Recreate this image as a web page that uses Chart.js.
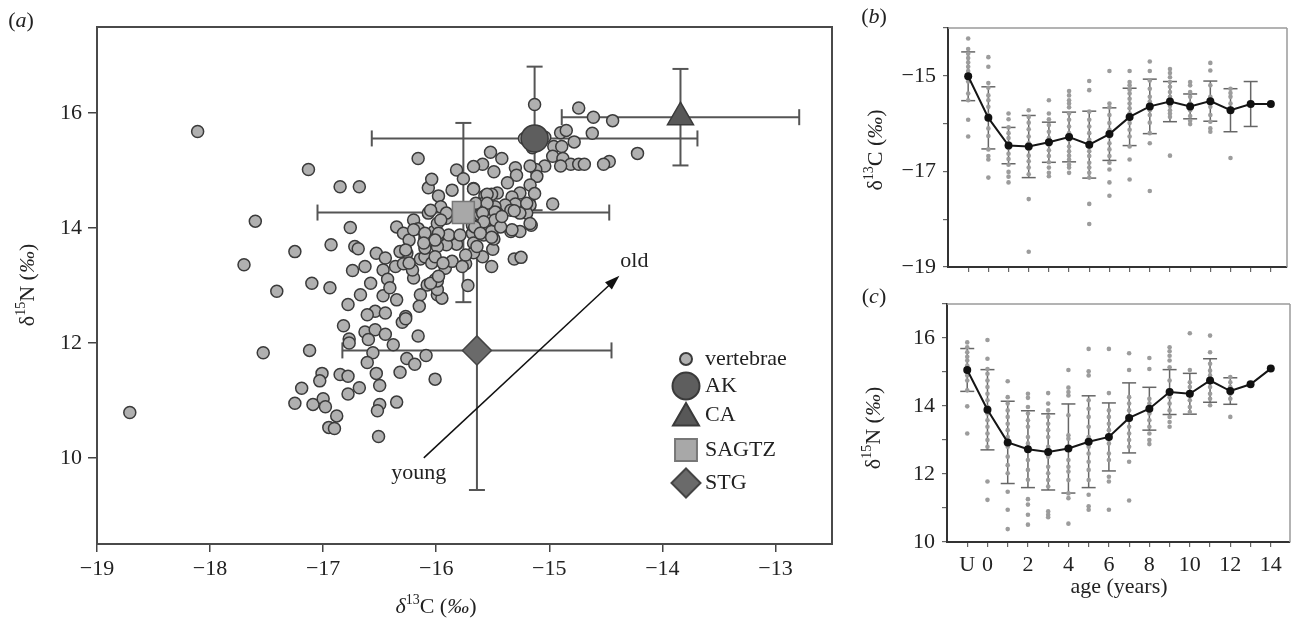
<!DOCTYPE html>
<html>
<head>
<meta charset="utf-8">
<script src="https://cdn.jsdelivr.net/npm/chart.js@4.4.1/dist/chart.umd.min.js"></script>
<style>
html, body { margin:0; padding:0; background:#fff; }
body { width:1294px; height:620px; position:relative; overflow:hidden; }
canvas { position:absolute; }
#ca { left:0; top:0; }
#cb { left:860px; top:0; }
#cc { left:860px; top:280px; }
</style>
</head>
<body>
<canvas id="ca" width="860" height="620"></canvas>
<canvas id="cb" width="434" height="290"></canvas>
<canvas id="cc" width="434" height="340"></canvas>
<script>
// ---- panel (a): vertebrae d13C / d15N ----
var vertC = [
 -18.11,-17.13,-16.85,-16.68,-17.60,-17.70,-17.25,-17.41,-17.10,-16.94,
 -16.93,-16.76,-16.72,-16.69,-16.74,-16.63,-16.53,-16.58,-16.67,-16.78,
 -16.45,-16.47,-16.36,-16.43,-16.35,-16.29,-16.20,-16.16,-16.26,-16.32,
 -16.29,-16.20,-16.47,-16.35,-16.54,-16.45,-16.61,-16.27,-18.71,-17.53,
 -17.12,-16.82,-16.77,-16.77,-16.63,-16.54,-16.60,-16.45,-16.56,-16.38,
 -16.30,-16.27,-16.16,-16.26,-16.19,-16.32,-16.61,-16.53,-16.50,-16.85,
 -16.78,-16.68,-16.78,-17.01,-17.03,-17.19,-17.25,-17.09,-17.00,-16.98,
 -16.88,-16.95,-16.90,-16.51,-16.50,-16.52,-16.35,-16.09,-16.01,-16.41,
 -16.21,-16.14,-16.10,-16.08,-16.14,-16.15,-16.01,-15.99,-16.24,-16.16,
 -16.10,-16.10,-16.02,-16.00,-16.07,-16.07,-15.98,-15.13,-14.74,-14.90,
 -14.85,-14.78,-14.96,-14.89,-15.04,-15.22,-15.15,-14.97,-14.88,-14.81,
 -14.74,-14.90,-15.04,-15.12,-15.11,-15.17,-15.17,-15.13,-15.17,-14.97,
 -15.30,-15.29,-15.37,-15.26,-15.33,-15.42,-15.52,-15.49,-15.59,-15.67,
 -15.82,-15.76,-15.67,-15.86,-16.04,-15.46,-15.57,-15.30,-15.39,-15.48,
 -15.58,-15.65,-15.96,-16.05,-14.61,-14.44,-14.62,-14.22,-14.47,-14.52,
 -14.69,-15.16,-15.26,-15.34,-15.31,-15.25,-15.51,-15.50,-15.59,-15.67,
 -15.74,-15.72,-15.95,-15.99,-15.99,-15.92,-15.86,-16.04,-15.82,-15.91,
 -15.99,-15.99,-15.89,-15.79,-15.68,-15.58,-15.49,-15.48,-15.57,-15.45,
 -15.46,-15.61,-15.91,-15.99,-15.67,-15.34,-15.20,-15.68,-15.51,-15.67,
 -15.51,-15.55,-15.20,-15.17,-15.26,-15.31,-15.33,-15.48,-15.48,-15.55,
 -15.59,-15.58,-15.66,-15.61,-15.51,-15.43,-15.42,-15.91,-15.96,-16.20,
 -16.10,-15.98,-16.01,-16.11,-16.27,-16.24,-16.01,-15.94,-15.74,-15.77,
 -15.64,-16.05,-15.98
];
var vertN = [
 15.68,15.02,14.72,14.72,14.12,13.36,13.59,12.90,13.04,12.96,
 13.71,14.01,13.68,13.64,13.26,13.33,13.56,13.04,12.84,12.67,
 13.48,13.27,13.33,13.11,14.02,13.91,14.14,15.21,13.56,13.59,
 13.38,13.13,12.82,12.75,12.55,12.52,12.49,12.46,10.79,11.83,
 11.87,12.30,12.07,12.00,12.19,12.23,12.06,12.15,11.83,11.97,
 12.36,12.42,12.12,11.73,11.63,11.49,11.66,11.47,11.26,11.45,
 11.42,11.22,11.11,11.47,11.34,11.21,10.95,10.93,11.03,10.89,
 10.73,10.53,10.51,10.37,10.93,10.82,10.97,11.78,11.37,12.96,
 13.27,13.46,13.50,13.01,12.84,12.64,13.10,12.84,13.79,13.99,
 13.82,13.65,13.94,13.82,14.26,14.70,14.56,16.15,16.09,15.66,
 15.70,15.50,15.42,15.42,15.58,15.56,15.40,15.25,15.21,15.11,
 15.11,15.08,15.08,15.02,14.90,15.08,14.75,14.60,14.40,14.42,
 15.05,14.92,14.79,14.61,14.54,15.21,15.32,14.98,15.11,15.07,
 15.01,14.86,14.69,14.66,14.85,14.61,14.56,14.42,14.40,14.37,
 14.43,14.43,14.37,14.31,15.93,15.87,15.65,15.30,15.16,15.11,
 15.11,14.05,13.94,13.94,13.46,13.49,13.33,13.63,13.50,13.57,
 13.38,13.00,12.78,12.93,13.08,13.30,13.42,13.39,13.72,13.71,
 13.68,13.85,13.88,13.88,13.91,13.88,13.81,14.00,14.08,14.17,
 14.26,14.23,14.17,14.08,13.74,14.31,14.26,14.05,13.94,14.68,
 14.59,14.59,14.43,14.08,14.26,14.30,13.97,14.28,14.14,14.43,
 14.26,14.11,14.02,13.91,13.84,14.02,14.20,14.26,14.14,13.97,
 13.91,13.91,13.79,13.74,13.62,13.39,13.50,13.39,13.53,13.33,
 13.68,13.04,13.16
];

// reference groups (mean +- sd)
var groupNames = ['AK', 'CA', 'SAGTZ', 'STG'];
var groupC   = [-15.13, -13.84, -15.76, -15.64];
var groupN   = [15.56, 15.93, 14.27, 11.87];
var groupCsd = [1.44, 1.05, 1.29, 1.19];
var groupNsd = [1.25, 0.84, 1.56, 2.43];

var xTicksA = [-19, -18, -17, -16, -15, -14, -13];
var yTicksA = [10, 12, 14, 16];

// ---- panels (b), (c): by age ----
var ageLabels = ['U','0','1','2','3','4','5','6','7','8','9','10','11','12','13','14'];
var ageX = [-1,0,1,2,3,4,5,6,7,8,9,10,11,12,13,14];
var ageTickText = ['U','0','','2','','4','','6','','8','','10','','12','','14'];

var c13Mean = [-15.01,-15.88,-16.46,-16.48,-16.39,-16.28,-16.44,-16.22,-15.86,-15.64,-15.54,-15.64,-15.53,-15.72,-15.59,-15.59];
var c13Sd   = [0.51,0.65,0.38,0.65,0.42,0.52,0.70,0.55,0.60,0.57,0.42,0.26,0.42,0.45,0.47,null];
var n15Mean = [15.06,13.89,12.93,12.73,12.65,12.75,12.95,13.09,13.65,13.92,14.41,14.36,14.75,14.44,14.64,15.10];
var n15Sd   = [0.63,1.18,1.21,1.13,1.12,1.31,1.35,1.00,1.03,0.63,0.66,0.60,0.64,0.39,null,null];

var c13Dots = [
 [-14.22,-14.44,-14.54,-14.63,-14.72,-14.81,-14.90,-14.99,-15.12,-15.37,-15.51,-15.92,-16.27],
 [-14.61,-14.81,-15.15,-15.25,-15.41,-15.51,-15.65,-15.82,-16.10,-16.26,-16.54,-16.68,-16.75,-17.13],
 [-15.79,-15.91,-16.08,-16.20,-16.30,-16.41,-16.51,-16.63,-16.74,-16.86,-17.01,-17.11,-17.23],
 [-15.72,-15.86,-15.98,-16.12,-16.27,-16.41,-16.53,-16.67,-16.79,-16.92,-17.06,-17.58,-18.68],
 [-15.51,-15.79,-15.91,-16.03,-16.17,-16.30,-16.44,-16.56,-16.68,-16.81,-16.92,-17.03,-17.10],
 [-15.32,-15.41,-15.51,-15.58,-15.66,-15.79,-15.92,-16.06,-16.20,-16.34,-16.48,-16.58,-16.67,-16.75,-16.86,-16.92,-17.03],
 [-15.11,-15.30,-15.75,-15.92,-16.06,-16.20,-16.34,-16.48,-16.58,-16.68,-16.82,-16.92,-17.03,-17.13,-17.68,-18.10],
 [-14.90,-15.58,-15.66,-15.82,-15.99,-16.13,-16.27,-16.41,-16.54,-16.68,-16.82,-16.96,-17.23,-17.51],
 [-14.90,-15.13,-15.20,-15.29,-15.37,-15.48,-15.58,-15.68,-15.79,-15.89,-15.99,-16.13,-16.27,-16.48,-16.75,-17.17],
 [-14.70,-14.90,-15.10,-15.27,-15.44,-15.54,-15.63,-15.72,-15.82,-15.98,-16.20,-16.41,-17.41],
 [-14.86,-14.94,-15.03,-15.13,-15.23,-15.34,-15.44,-15.54,-15.63,-15.72,-15.79,-15.86,-16.67],
 [-15.13,-15.20,-15.34,-15.44,-15.58,-15.72,-15.84,-15.94,-16.01],
 [-14.73,-14.89,-15.20,-15.44,-15.65,-15.82,-15.96,-16.10,-16.17],
 [-15.27,-15.36,-15.44,-15.58,-15.72,-16.72],
 [],
 []
];
var n15Dots = [
 [15.87,15.73,15.58,15.45,15.34,15.19,15.04,14.90,14.75,14.46,13.99,13.19],
 [15.94,15.39,15.09,14.95,14.75,14.56,14.36,14.17,13.97,13.78,13.58,13.39,13.19,13.00,12.80,11.78,11.24],
 [14.73,14.26,14.07,13.87,13.68,13.48,13.29,13.09,12.80,12.51,12.26,12.02,11.48,10.95,10.38],
 [14.36,14.24,13.97,13.78,13.58,13.39,13.09,12.90,12.41,12.12,11.83,11.26,11.10,10.80,10.51],
 [14.38,14.07,13.87,13.68,13.48,13.29,13.09,12.80,12.51,12.21,12.02,11.82,11.63,10.90,10.80,10.73],
 [15.06,14.54,14.41,14.31,13.73,13.14,13.04,12.80,12.41,12.21,12.07,11.82,11.43,11.29,10.54],
 [15.68,15.02,14.90,14.17,13.92,13.68,13.39,13.09,12.80,12.60,12.36,12.12,11.82,11.39,11.05,10.95],
 [15.68,14.38,13.87,13.68,13.48,13.29,12.90,12.60,12.41,11.92,11.78,10.95],
 [15.55,15.06,14.26,14.07,13.87,13.58,13.39,13.19,13.00,12.80,12.36,11.22],
 [15.41,15.09,14.21,14.07,13.92,13.78,13.58,13.39,13.19,13.00,12.88],
 [15.73,15.61,15.48,15.34,15.14,14.75,14.46,14.26,14.07,13.87,13.68,13.53,13.39],
 [16.14,15.06,14.70,14.56,14.36,14.17,13.97,13.82],
 [16.07,15.58,15.24,15.04,14.90,14.56,14.36,14.21,14.02],
 [14.85,14.70,14.56,14.36,14.21,13.68],
 [],
 []
];

// ---- styles ----
var FONT = "'Liberation Serif', 'Times New Roman', serif";
var INK = '#222';
var groupStyle  = ['circle', 'triangle', 'rect', 'rectRot'];
var groupRadius = [13.5, 15, 15.5, 14.5];
var groupFill   = ['#5e5e5e', '#585858', '#a8a8a8', '#6a6a6a'];
var groupLine   = ['#3a3a3a', '#3a3a3a', '#777777', '#444444'];

Chart.defaults.font.family = FONT;
Chart.defaults.font.size = 22;
Chart.defaults.color = INK;

function minus(v) { return String(v).replace('-', '\u2212'); }

function pieceFont(p) { return (p.it ? 'italic ' : '') + (p.sup ? 14 : 22) + 'px ' + FONT; }
function rich(ctx, pieces, cx, cy, rot) {
  ctx.save();
  ctx.translate(cx, cy);
  if (rot) ctx.rotate(rot);
  var w = 0;
  pieces.forEach(function(p) { ctx.font = pieceFont(p); p.w = ctx.measureText(p.t).width; w += p.w; });
  var x = -w / 2;
  ctx.fillStyle = INK;
  ctx.textBaseline = 'alphabetic';
  ctx.textAlign = 'left';
  pieces.forEach(function(p) {
    ctx.font = pieceFont(p);
    ctx.fillText(p.t, x, 7 - (p.sup ? 9 : 0));
    x += p.w;
  });
  ctx.restore();
}
function seg(ctx, x1, y1, x2, y2) { ctx.beginPath(); ctx.moveTo(x1, y1); ctx.lineTo(x2, y2); ctx.stroke(); }

function fixTicks(values) {
  return function(scale) { scale.ticks = values.map(function(v) { return { value: v }; }); };
}

// ---------------- panel (a) ----------------
var panelA = {
  id: 'panelA',
  beforeDatasetsDraw: function(chart) {
    var ctx = chart.ctx, xs = chart.scales.x, ys = chart.scales.y;
    ctx.save();
    ctx.strokeStyle = '#555';
    ctx.lineWidth = 2;
    groupC.forEach(function(c, i) {
      var px = xs.getPixelForValue(c), py = ys.getPixelForValue(groupN[i]);
      var l = xs.getPixelForValue(c - groupCsd[i]), r = xs.getPixelForValue(c + groupCsd[i]);
      var t = ys.getPixelForValue(groupN[i] + groupNsd[i]), b = ys.getPixelForValue(groupN[i] - groupNsd[i]);
      seg(ctx, l, py, r, py); seg(ctx, l, py - 8, l, py + 8); seg(ctx, r, py - 8, r, py + 8);
      seg(ctx, px, t, px, b); seg(ctx, px - 8, t, px + 8, t); seg(ctx, px - 8, b, px + 8, b);
    });
    ctx.restore();
  },
  afterDatasetsDraw: function(chart) {
    var ctx = chart.ctx, xs = chart.scales.x, ys = chart.scales.y;
    // age arrow
    var x1 = xs.getPixelForValue(-16.11), y1 = ys.getPixelForValue(10.0);
    var x2 = xs.getPixelForValue(-14.38), y2 = ys.getPixelForValue(13.17);
    var ang = Math.atan2(y2 - y1, x2 - x1);
    ctx.save();
    ctx.strokeStyle = '#111'; ctx.fillStyle = '#111'; ctx.lineWidth = 1.5;
    seg(ctx, x1, y1, x2 - 10 * Math.cos(ang), y2 - 10 * Math.sin(ang));
    ctx.beginPath();
    ctx.moveTo(x2, y2);
    ctx.lineTo(x2 - 15 * Math.cos(ang) + 5 * Math.sin(ang), y2 - 15 * Math.sin(ang) - 5 * Math.cos(ang));
    ctx.lineTo(x2 - 15 * Math.cos(ang) - 5 * Math.sin(ang), y2 - 15 * Math.sin(ang) + 5 * Math.cos(ang));
    ctx.closePath(); ctx.fill();
    ctx.font = '22px ' + FONT; ctx.fillStyle = INK; ctx.textAlign = 'center'; ctx.textBaseline = 'middle';
    ctx.fillText('old', x2 + 15, y2 - 15);
    ctx.fillText('young', x1 - 5, y1 + 15);
    ctx.restore();
  },
  afterDraw: function(chart) {
    var ctx = chart.ctx, a = chart.chartArea;
    ctx.save();
    ctx.strokeStyle = '#4a4a4a'; ctx.lineWidth = 2;
    ctx.strokeRect(a.left, a.top, a.right - a.left, a.bottom - a.top);
    // legend
    var lx = 686, tx = 705;
    var rows = [359, 386, 415, 450, 483];
    var names = ['vertebrae'].concat(groupNames);
    names.forEach(function(n, i) {
      if (i === 0) {
        ctx.fillStyle = '#b0b0b0'; ctx.strokeStyle = '#3a3a3a';
        Chart.helpers.drawPoint(ctx, { pointStyle: 'circle', radius: 6, rotation: 0, borderWidth: 1.5 }, lx, rows[i]);
      } else {
        ctx.fillStyle = groupFill[i - 1]; ctx.strokeStyle = groupLine[i - 1];
        Chart.helpers.drawPoint(ctx, { pointStyle: groupStyle[i - 1], radius: groupRadius[i - 1], rotation: 0, borderWidth: 1.5 }, lx, rows[i] + (i === 2 ? 3 : 0));
      }
      ctx.fillStyle = INK; ctx.font = '22px ' + FONT; ctx.textAlign = 'left'; ctx.textBaseline = 'middle';
      ctx.fillText(n, tx, rows[i]);
    });
    ctx.restore();
    rich(ctx, [{ t: '(' }, { t: 'a', it: true }, { t: ')' }], 21, 20);
    rich(ctx, [{ t: '\u03b4' }, { t: '15', sup: true }, { t: 'N (' }, { t: '\u2030', it: true }, { t: ')' }], 27, 285, -Math.PI / 2);
    rich(ctx, [{ t: '\u03b4', it: true }, { t: '13', sup: true }, { t: 'C (' }, { t: '\u2030', it: true }, { t: ')' }], 436, 606);
  }
};

var dsA = [];
groupNames.forEach(function(g, i) {
  dsA.push({
    label: g,
    data: [{ x: groupC[i], y: groupN[i] }],
    pointStyle: groupStyle[i],
    pointRadius: groupRadius[i],
    pointBackgroundColor: groupFill[i],
    pointBorderColor: groupLine[i],
    pointBorderWidth: 1.5,
    order: 1
  });
});
dsA.push({
  label: 'vertebrae',
  data: vertC.map(function(c, i) { return { x: c, y: vertN[i] }; }),
  pointRadius: 6,
  pointBackgroundColor: '#b0b0b0',
  pointBorderColor: '#3a3a3a',
  pointBorderWidth: 1.5,
  order: 2
});

new Chart(document.getElementById('ca'), {
  type: 'scatter',
  data: { datasets: dsA },
  options: {
    responsive: false, animation: false,
    layout: { padding: { left: 0, top: 27, right: 28, bottom: 0 } },
    plugins: { legend: { display: false }, tooltip: { enabled: false } },
    scales: {
      x: {
        type: 'linear', min: -19, max: -12.5,
        afterBuildTicks: fixTicks(xTicksA),
        afterFit: function(s) { s.height = 76; },
        ticks: { padding: 4, color: INK, callback: function(v) { return minus(v); } },
        grid: { drawOnChartArea: false, tickLength: 8, tickColor: '#444', lineWidth: 1.5 },
        border: { display: true, color: '#4a4a4a', width: 2 }
      },
      y: {
        type: 'linear', min: 8.5, max: 17.5,
        afterBuildTicks: fixTicks(yTicksA),
        afterFit: function(s) { s.width = 97; },
        ticks: { padding: 6, color: INK },
        grid: { drawOnChartArea: false, tickLength: 9, tickColor: '#444', lineWidth: 1.5 },
        border: { display: true, color: '#4a4a4a', width: 2 }
      }
    }
  },
  plugins: [panelA]
});

// ---------------- panels (b) and (c) ----------------
function agePanel(id, means, sds, dots, yMin, yMax, yTicks, yLabel, xMax, showX, pad, xH, yW, label, labelY, titleX, titleY, titlePieces) {
  var pts = [];
  dots.forEach(function(arr, i) { arr.forEach(function(v) { pts.push({ x: ageX[i], y: v }); }); });
  var plug = {
    id: id + 'plug',
    beforeDatasetsDraw: function(chart) {
      var ctx = chart.ctx, xs = chart.scales.x, ys = chart.scales.y;
      ctx.save();
      ctx.strokeStyle = '#666'; ctx.lineWidth = 1.5;
      means.forEach(function(m, i) {
        if (sds[i] == null) return;
        var px = xs.getPixelForValue(ageX[i]);
        var t = ys.getPixelForValue(m + sds[i]), b = ys.getPixelForValue(m - sds[i]);
        seg(ctx, px, t, px, b); seg(ctx, px - 7, t, px + 7, t); seg(ctx, px - 7, b, px + 7, b);
      });
      ctx.restore();
    },
    afterDraw: function(chart) {
      var ctx = chart.ctx, a = chart.chartArea;
      ctx.save();
      ctx.strokeStyle = '#9a9a9a'; ctx.lineWidth = 1.5;
      seg(ctx, a.left, a.top, a.right, a.top);
      seg(ctx, a.right, a.top, a.right, a.bottom);
      ctx.restore();
      rich(ctx, [{ t: '(' }, { t: label, it: true }, { t: ')' }], 14, labelY);
      rich(ctx, titlePieces, titleX, titleY, -Math.PI / 2);
      if (showX) rich(ctx, [{ t: 'age (years)' }], 259, 306);
    }
  };
  new Chart(document.getElementById(id), {
    type: 'scatter',
    data: {
      datasets: [
        {
          label: 'mean',
          data: ageX.map(function(x, i) { return { x: x, y: means[i] }; }),
          showLine: true, borderColor: '#151515', borderWidth: 2,
          pointRadius: 4, pointBackgroundColor: '#111', pointBorderColor: '#111', pointBorderWidth: 0,
          order: 0
        },
        {
          label: 'individual',
          data: pts,
          pointRadius: 2.3, pointBackgroundColor: '#9c9c9c', pointBorderWidth: 0,
          order: 1
        }
      ]
    },
    options: {
      responsive: false, animation: false,
      layout: { padding: pad },
      plugins: { legend: { display: false }, tooltip: { enabled: false } },
      scales: {
        x: {
          type: 'linear', min: -2, max: xMax,
          afterBuildTicks: fixTicks(ageX),
          afterFit: function(s) { s.height = xH; },
          ticks: {
            display: showX, padding: 5, color: INK, autoSkip: false, maxRotation: 0,
            callback: function(v) { return ageTickText[ageX.indexOf(v)]; }
          },
          grid: { drawOnChartArea: false, tickLength: 5, tickColor: '#666', lineWidth: 1.2 },
          border: { display: true, color: '#333', width: 2 }
        },
        y: {
          type: 'linear', min: yMin, max: yMax,
          afterBuildTicks: fixTicks(yTicks),
          afterFit: function(s) { s.width = yW; },
          ticks: {
            padding: 7, color: INK, autoSkip: false,
            callback: function(v) { return yLabel.indexOf(v) >= 0 ? minus(v) : ''; }
          },
          grid: { drawOnChartArea: false, tickLength: 5, tickColor: '#666', lineWidth: 1.2 },
          border: { display: true, color: '#333', width: 2 }
        }
      }
    },
    plugins: [plug]
  });
}

agePanel('cb', c13Mean, c13Sd, c13Dots, -19, -14, [-19, -18, -17, -16, -15, -14], [-19, -17, -15], 14.8, false,
  { left: 0, top: 28, right: 7, bottom: 0 }, 23, 88, 'b', 16,
  15, 150, [{ t: '\u03b4' }, { t: '13', sup: true }, { t: 'C (' }, { t: '\u2030', it: true }, { t: ')' }]);

agePanel('cc', n15Mean, n15Sd, n15Dots, 10, 17, [10, 11, 12, 13, 14, 15, 16, 17], [10, 12, 14, 16], 14.95, true,
  { left: 0, top: 24, right: 4, bottom: 0 }, 78, 87, 'c', 16,
  13, 148, [{ t: '\u03b4' }, { t: '15', sup: true }, { t: 'N (' }, { t: '\u2030', it: true }, { t: ')' }]);
</script>
</body>
</html>
